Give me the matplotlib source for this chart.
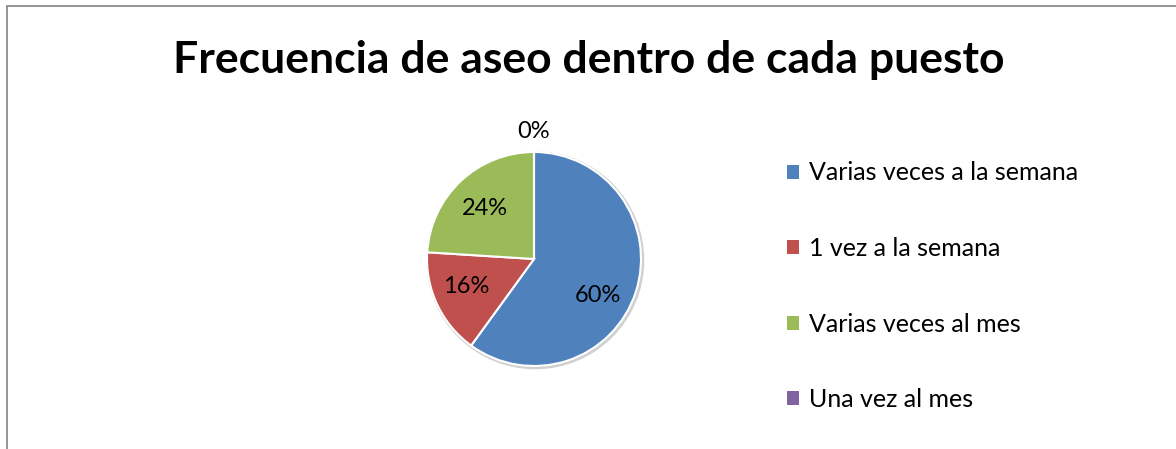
import numpy as np
import matplotlib
matplotlib.use("Agg")
import matplotlib.pyplot as plt
from matplotlib.patches import Circle, Rectangle

plt.rcParams["font.family"] = ["Lato", "DejaVu Sans"]

# data
categories = ["Varias veces a la semana", "1 vez a la semana",
              "Varias veces al mes", "Una vez al mes"]
values = [60, 16, 24, 0]
colors = ["#4F81BD", "#C0504D", "#9BBB59", "#8064A2"]
title = "Frecuencia de aseo dentro de cada puesto"

W, H = 1176, 449
fig = plt.figure(figsize=(W / 100, H / 100), dpi=100)
fig.patch.set_facecolor("white")

# outer chart border (left and top visible)
fig.add_artist(Rectangle((7 / W, -0.1), 1.2, (H - 6) / H + 0.1,
                         transform=fig.transFigure, fill=False,
                         edgecolor="#8c8c8c", linewidth=1.3))

fig.text(589 / W, 1 - 60 / H, title, ha="center", va="center",
         fontsize=32, fontweight="bold", color="black")

# pie axes
cx, cy, r = 534, 259, 107
ax = fig.add_axes([(cx - r) / W, (H - cy - r) / H, 2 * r / W, 2 * r / H])
ax.axis("off")

wedges, texts, autotexts = ax.pie(
    values, colors=colors, startangle=90, counterclock=False,
    autopct="%1.0f%%", pctdistance=0.67,
    wedgeprops=dict(edgecolor="white", linewidth=1.5),
    textprops=dict(fontsize=17, color="black"), radius=1.0)

# soft shadow
ax.add_patch(Circle((0.012, -0.012), 1.012, color="#d0d0d0", zorder=0, clip_on=False))
ax.set_xlim(-1, 1)
ax.set_ylim(-1, 1)
ax.set_aspect("equal")

# small nudges like Excel's best-fit label placement
nudges = [(-0.04, -0.13), (-0.03, 0.03), (0.0, -0.02), (0.0, 0.0)]
for w, t, v, (dx, dy) in zip(wedges, autotexts, values, nudges):
    if v == 0:
        ang = np.deg2rad(w.theta1)
        t.set_position((1.19 * np.cos(ang), 1.19 * np.sin(ang)))
    else:
        x, y = t.get_position()
        t.set_position((x + dx, y + dy))
    t.set_zorder(5)

# legend
handles = [Rectangle((0, 0), 1, 1, facecolor=c, edgecolor="none") for c in colors]
fig.legend(handles, categories, loc="upper left",
           bbox_to_anchor=(774 / W, 1 - 149 / H), frameon=False,
           fontsize=18, handlelength=0.5, handleheight=0.5,
           handletextpad=0.4, labelspacing=2.1, borderpad=0)

fig.savefig("out.png", dpi=100, facecolor="white")
